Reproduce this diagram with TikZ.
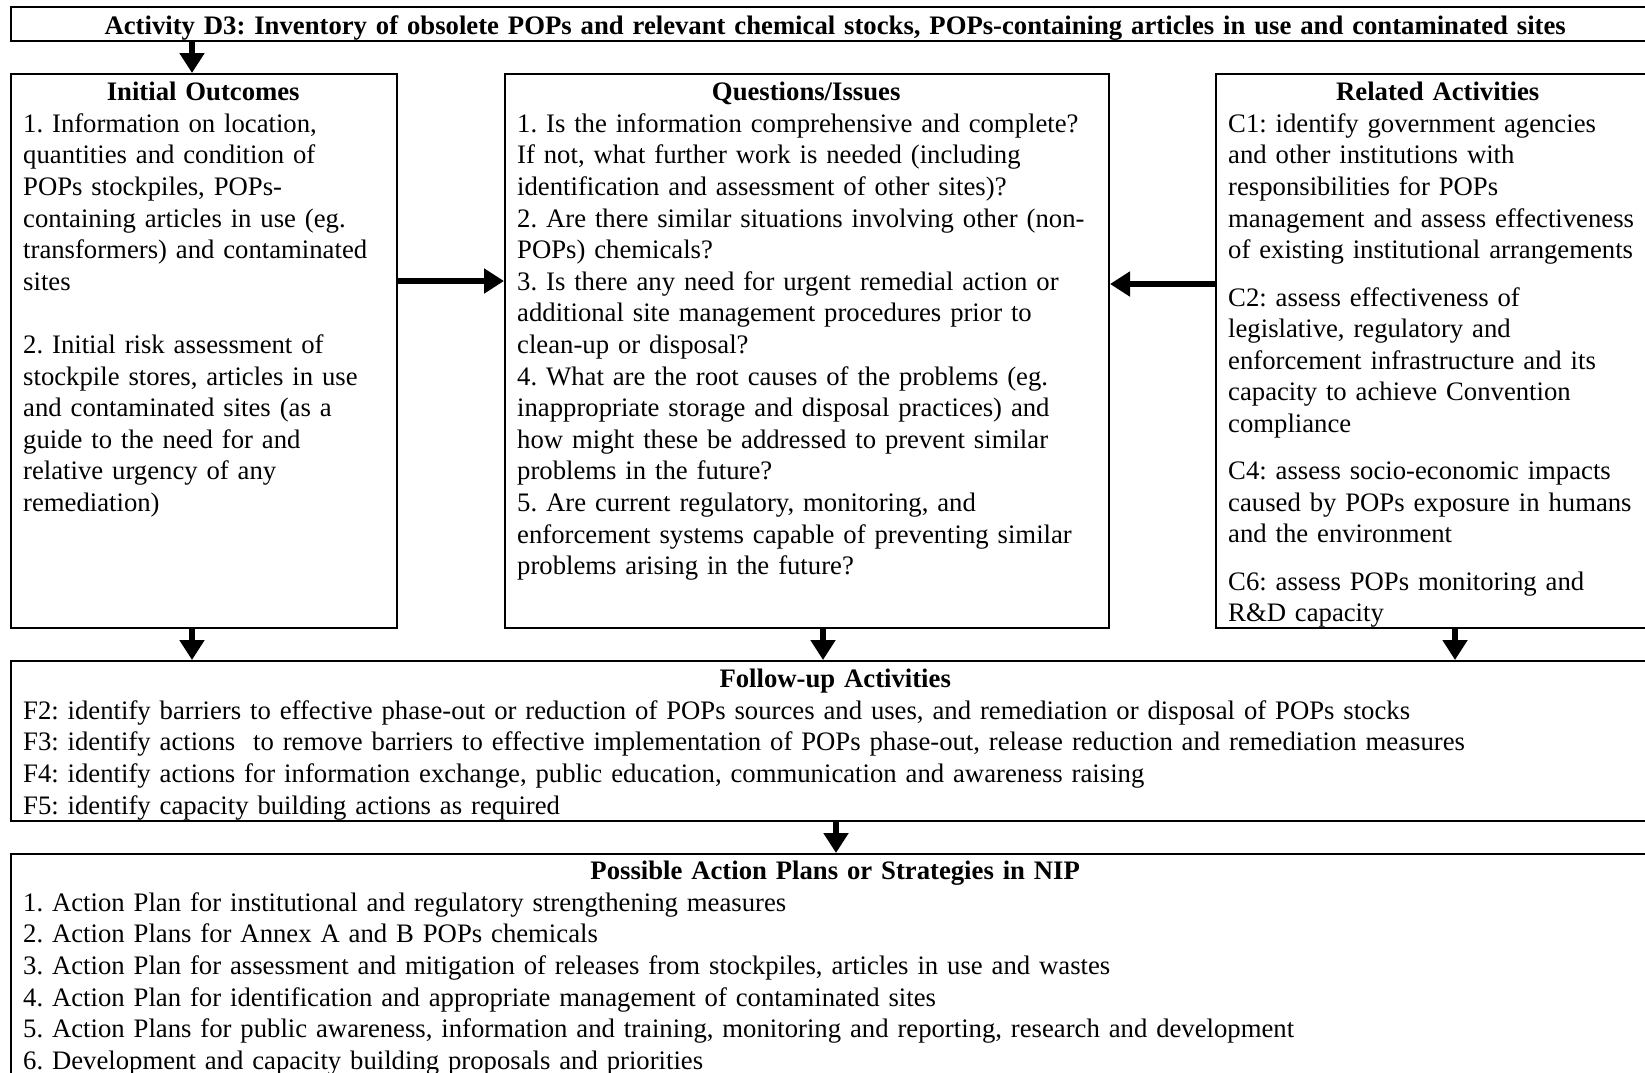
\documentclass[tikz,border=0pt]{standalone}
\usepackage{fontspec}
\setmainfont{Liberation Serif}
\usetikzlibrary{arrows.meta}
\frenchspacing
\begin{document}
\begin{tikzpicture}[x=1pt,y=-1pt,
  frame/.style={draw,line width=2pt,inner sep=0pt,anchor=north west},
  txt/.style={anchor=north west,inner sep=0pt,align=left,
    font=\fontsize{26.7}{31.6}\selectfont},
  arr/.style={line width=6.5pt,-{Triangle[length=20pt,width=24pt]}}]
\useasboundingbox (0,0) rectangle (1645,1072);
\clip (0,0) rectangle (1645,1072);
% boxes
\node[frame,minimum width=1650pt,minimum height=34pt] (top) at (10,6) {};
\node[frame,minimum width=386pt,minimum height=554pt] (io) at (10,73) {};
\node[frame,minimum width=604pt,minimum height=554pt] (q) at (504,73) {};
\node[frame,minimum width=445pt,minimum height=554pt] (r) at (1215,73) {};
\node[frame,minimum width=1650pt,minimum height=160pt] (follow) at (10,660) {};
\node[frame,minimum width=1650pt,minimum height=250pt] (plans) at (10,853) {};
% texts
\node[txt,text width=1624pt] (toptext) at ([shift={(13,9)}]top.north west)
  {\makebox[\linewidth]{\bfseries Activity D3: Inventory of obsolete POPs and relevant chemical stocks, POPs-containing articles in use and contaminated sites}};
\node[txt,text width=360pt] (iotext) at ([shift={(13,9)}]io.north west)
  {\makebox[\linewidth]{\bfseries Initial Outcomes}\\
   1. Information on location,\\
   quantities and condition of\\
   POPs stockpiles, POPs-\\
   containing articles in use (eg.\\
   transformers) and contaminated\\
   sites\\[31.6pt]
   2. Initial risk assessment of\\
   stockpile stores, articles in use\\
   and contaminated sites (as a\\
   guide to the need for and\\
   relative urgency of any\\
   remediation)};
\node[txt,text width=578pt] (qtext) at ([shift={(13,9)}]q.north west)
  {\makebox[\linewidth]{\bfseries Questions/Issues}\\
   1. Is the information comprehensive and complete?\\
   If not, what further work is needed (including\\
   identification and assessment of other sites)?\\
   2. Are there similar situations involving other (non-\\
   POPs) chemicals?\\
   3. Is there any need for urgent remedial action or\\
   additional site management procedures prior to\\
   clean-up or disposal?\\
   4. What are the root causes of the problems (eg.\\
   inappropriate storage and disposal practices) and\\
   how might these be addressed to prevent similar\\
   problems in the future?\\
   5. Are current regulatory, monitoring, and\\
   enforcement systems capable of preventing similar\\
   problems arising in the future?};
\node[txt,text width=419pt] (rtext) at ([shift={(13,9)}]r.north west)
  {\makebox[\linewidth]{\bfseries Related Activities}\\
   C1: identify government agencies\\
   and other institutions with\\
   responsibilities for POPs\\
   management and assess effectiveness\\
   of existing institutional arrangements\\[15.7pt]
   C2: assess effectiveness of\\
   legislative, regulatory and\\
   enforcement infrastructure and its\\
   capacity to achieve Convention\\
   compliance\\[15.7pt]
   C4: assess socio-economic impacts\\
   caused by POPs exposure in humans\\
   and the environment\\[15.7pt]
   C6: assess POPs monitoring and\\
   R\&D capacity};
\node[txt,text width=1624pt] (ftext) at ([shift={(13,9)}]follow.north west)
  {\makebox[\linewidth]{\bfseries Follow-up Activities}\\
   F2: identify barriers to effective phase-out or reduction of POPs sources and uses, and remediation or disposal of POPs stocks\\
   F3: identify actions\ \ to remove barriers to effective implementation of POPs phase-out, release reduction and remediation measures\\
   F4: identify actions for information exchange, public education, communication and awareness raising\\
   F5: identify capacity building actions as required};
\node[txt,text width=1624pt] (ptext) at ([shift={(13,8)}]plans.north west)
  {\makebox[\linewidth]{\bfseries Possible Action Plans or Strategies in NIP}\\
   1. Action Plan for institutional and regulatory strengthening measures\\
   2. Action Plans for Annex A and B POPs chemicals\\
   3. Action Plan for assessment and mitigation of releases from stockpiles, articles in use and wastes\\
   4. Action Plan for identification and appropriate management of contaminated sites\\
   5. Action Plans for public awareness, information and training, monitoring and reporting, research and development\\
   6. Development and capacity building proposals and priorities};
% arrows
\draw[arr] ([xshift=182pt]top.south west) -- ([xshift=182pt]io.north west);
\draw[arr] ([yshift=70pt]io.east) -- ([yshift=70pt]q.west);
\draw[arr] ([yshift=67pt]r.west) -- ([yshift=67pt]q.east);
\foreach \src/\dx/\fx in {io/182/182,q/319/813,r/240/1445}
  \draw[arr] ([xshift=\dx pt]\src.south west) -- ([xshift=\fx pt]follow.north west);
\draw[arr] (follow.south) -- (plans.north);
\end{tikzpicture}
\end{document}
